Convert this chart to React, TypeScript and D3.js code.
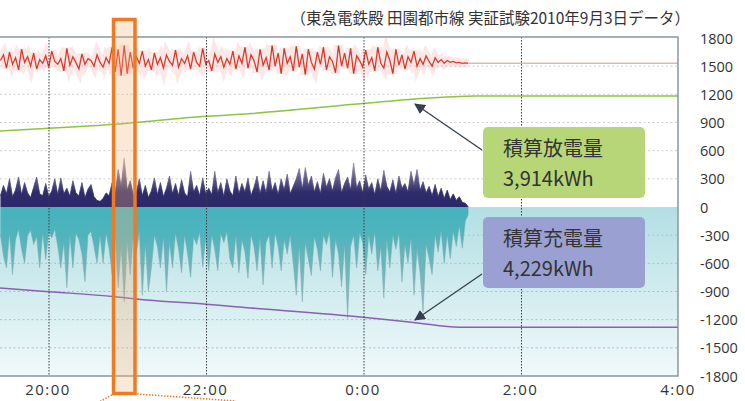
import React from "react";
import * as d3 from "d3";

// ---- data ----
const titleText = "（東急電鉄殿 田園都市線 実証試験2010年9月3日データ）";
const xTickMinutes = [0, 120, 240, 360, 480];
const xTickLabels = ["20:00", "22:00", "0:00", "2:00", "4:00"];
const yTicks = [1800, 1500, 1200, 900, 600, 300, 0, -300, -600, -900, -1200, -1500, -1800];

// samples: minutes from 20:00
const sampleStart = -37;
const sampleStep = 2.3;

const voltage = [
  1560, 1620, 1480, 1650, 1520, 1590, 1460, 1680, 1540, 1600,
  1500, 1640, 1470, 1570, 1530, 1610, 1490, 1660, 1550, 1520,
  1580, 1450, 1690, 1510, 1600, 1540, 1470, 1630, 1520, 1580,
  1560, 1500, 1620, 1540, 1490, 1590, 1530, 1700, 1440, 1680,
  1400, 1720, 1420, 1650, 1480, 1600, 1530, 1660, 1500, 1570,
  1460, 1640, 1520, 1590, 1480, 1620, 1550, 1510, 1670, 1490,
  1580, 1530, 1610, 1470, 1650, 1540, 1500, 1690, 1520, 1560,
  1450, 1630, 1540, 1600, 1490, 1580, 1520, 1660, 1470, 1610,
  1530, 1700, 1480, 1620, 1560, 1440, 1680, 1510, 1590, 1460,
  1720, 1500, 1640, 1420, 1690, 1530, 1600, 1450, 1710, 1490,
  1630, 1410, 1680, 1540, 1470, 1650, 1520, 1700, 1460, 1600,
  1550, 1430, 1720, 1500, 1640, 1480, 1690, 1420, 1610, 1560,
  1490, 1670, 1520, 1590, 1450, 1700, 1530, 1480, 1650, 1560,
  1420, 1680, 1510, 1620, 1470, 1600, 1540, 1660, 1500, 1580,
  1520, 1610, 1550, 1500, 1590, 1540, 1570, 1530, 1560, 1540,
  1550, 1535, 1540, 1530, 1535, 1530,
];
const idleVoltageTimes = [319.5, 480];
const idleVoltage = [1530, 1530];

const discharge = [
  120, 230, 140, 300, 110, 180, 320, 130, 260, 150,
  100, 210, 320, 140, 120, 250, 110, 170, 300, 130,
  310, 140, 200, 115, 280, 150, 120, 260, 100, 190,
  240, 110, 70, 60, 90, 150, 120, 260, 140, 400,
  220, 520, 180, 280, 130, 150, 300, 120, 230, 100,
  170, 310, 130, 260, 110, 200, 330, 140, 250, 120,
  290, 150, 110, 380, 160, 230, 120, 310, 140, 200,
  130, 380, 150, 260, 110, 300, 170, 120, 330, 140,
  250, 160, 310, 120, 210, 330, 140, 280, 150, 380,
  170, 260, 130, 300, 180, 350, 140, 220, 300, 410,
  190, 420, 230, 330, 160, 270, 140, 360, 210, 300,
  170, 310, 400, 150, 250, 320, 180, 470, 200, 280,
  150, 340, 190, 260, 130, 300, 170, 390, 220, 160,
  290, 140, 330, 200, 250, 160, 380, 230, 400, 180,
  270, 150, 220, 120, 240, 110, 200, 90, 180, 80,
  140, 70, 110, 50, 40, 0,
];

const charge = [
  -300, -520, -650, -280, -720, -350, -240, -450, -600, -300,
  -250, -400, -320, -650, -280, -560, -260, -330, -240, -420,
  -650, -380, -860, -300, -650, -280, -350, -500, -795, -300,
  -260, -420, -600, -300, -600, -280, -450, -720, -350, -860,
  -420, -1010, -380, -720, -300, -500, -260, -940, -400, -900,
  -650, -300, -420, -650, -320, -900, -380, -650, -280, -450,
  -700, -300, -500, -750, -320, -400, -270, -640, -330, -680,
  -300, -450, -680, -280, -380, -260, -550, -650, -300, -700,
  -350, -480, -760, -300, -420, -680, -330, -830, -380, -300,
  -650, -280, -420, -680, -350, -500, -300, -600, -940, -420,
  -1010, -380, -560, -730, -320, -450, -680, -300, -400, -260,
  -750, -350, -500, -850, -400, -1185, -420, -300, -650, -280,
  -380, -720, -300, -500, -260, -680, -420, -970, -350, -650,
  -300, -450, -280, -800, -400, -600, -330, -940, -450, -700,
  -1115, -400, -550, -720, -300, -480, -250, -600, -300, -550,
  -260, -420, -200, -440, -150, -80,
];

const dischargeSumTimes = [-38, 0, 50, 120, 142, 241, 279, 325, 480];
const dischargeSum = [809, 838, 881, 966, 984, 1104, 1150, 1182, 1182];
const chargeSumTimes = [-38, 0, 50, 66, 120, 142, 241, 267, 279, 313, 480];
const chargeSum = [-863, -902, -955, -980, -1036, -1062, -1176, -1215, -1232, -1281, -1281];

const dischargeLabel = ["積算放電量", "3,914kWh"];
const chargeLabel = ["積算充電量", "4,229kWh"];

// ---- layout ----
const W = 745;
const H = 401;
const plotLeft = 0;
const plotRight = 678;
const plotTop = 37;
const plotBottom = 376;

export default function App() {
  const x = d3.scaleLinear().domain([0, 480]).range([49, 679]);
  const y = d3.scaleLinear().domain([-1800, 1800]).range([376, 38]);
  const tOf = (i: number) => sampleStart + sampleStep * i;

  const lineIdx = d3
    .line<number>()
    .x((_, i) => x(tOf(i)))
    .y((v) => y(v));
  const areaIdx = d3
    .area<number>()
    .x((_, i) => x(tOf(i)))
    .y0(y(0))
    .y1((v) => y(v));
  const lineT = (ts: number[]) =>
    d3
      .line<number>()
      .x((_, i) => x(ts[i]))
      .y((v) => y(v))
      .curve(d3.curveMonotoneX);

  const font = "'Noto Sans CJK JP', 'Noto Sans', sans-serif";
  const numFont = "'Open Sans', 'Noto Sans', sans-serif";

  const box1 = { x: 483, y: 127, w: 162, h: 71 };
  const box2 = { x: 483, y: 217, w: 162, h: 71 };

  return (
    <div style={{ position: "absolute", left: 0, top: 0 }}>
      <svg width={W} height={H} style={{ display: "block", background: "#fff" }}>
        <defs>
          <linearGradient id="cyanBg" x1="0" y1="0" x2="0" y2="1">
            <stop offset="0%" stopColor="#b2dfe4" />
            <stop offset="100%" stopColor="#f1f9fa" />
          </linearGradient>
          <linearGradient id="navyGrad" gradientUnits="userSpaceOnUse" x1="0" y1={y(520)} x2="0" y2={y(0)}>
            <stop offset="0" stopColor="#a9a5bd" />
            <stop offset="0.45" stopColor="#5a5786" />
            <stop offset="0.7" stopColor="#2f2c6c" />
            <stop offset="1" stopColor="#2b286a" />
          </linearGradient>
          <linearGradient id="cyanGrad" gradientUnits="userSpaceOnUse" x1="0" y1={y(0)} x2="0" y2={y(-1200)}>
            <stop offset="0" stopColor="#3caeb9" />
            <stop offset="0.25" stopColor="#46b0ba" />
            <stop offset="0.6" stopColor="#6cb2b8" />
            <stop offset="1" stopColor="#93b5b8" />
          </linearGradient>
          <linearGradient id="redGrad" gradientUnits="userSpaceOnUse" x1="0" y1={y(1760)} x2="0" y2={y(1360)}>
            <stop offset="0" stopColor="#8e3a3a" />
            <stop offset="0.3" stopColor="#dc3a2c" />
            <stop offset="0.7" stopColor="#dc3a2c" />
            <stop offset="1" stopColor="#8e3a3a" />
          </linearGradient>
          <marker id="arrow" viewBox="0 0 10 10" refX="9" refY="5" markerWidth="11" markerHeight="11" markerUnits="userSpaceOnUse" orient="auto">
            <path d="M0,0 L10,5 L0,10 z" fill="#34404e" />
          </marker>
          <clipPath id="plotClip">
            <rect x={plotLeft} y={plotTop} width={plotRight - plotLeft} height={plotBottom - plotTop} />
          </clipPath>
        </defs>

        {/* title */}
        <text x={690} y={24} textAnchor="end" fontFamily={font} fontSize={15.5} fill="#333">
          {titleText}
        </text>

        {/* backgrounds */}
        <rect x={plotLeft} y={y(0)} width={plotRight - plotLeft} height={plotBottom - y(0)} fill="url(#cyanBg)" />

        {/* horizontal grid */}
        {yTicks
          .filter((v) => v !== 0 && Math.abs(v) !== 1800)
          .map((v) => (
            <line key={v} x1={plotLeft} x2={plotRight} y1={y(v)} y2={y(v)} stroke={v > 0 ? "#cfcfcf" : "#a9c4c8"} strokeWidth={1} strokeDasharray="2 2.5" />
          ))}

        <g clipPath="url(#plotClip)">
          {/* voltage */}
          <path d={lineIdx(voltage) || ""} fill="none" stroke="#f2b0a8" strokeWidth={9} opacity={0.3} />
          <path d={lineIdx(voltage) || ""} fill="none" stroke="url(#redGrad)" strokeWidth={1.3} />
          <path d={lineT(idleVoltageTimes)(idleVoltage) || ""} fill="none" stroke="#d9b9b6" strokeWidth={1.5} />

          {/* discharge */}
          <path d={areaIdx(discharge) || ""} fill="url(#navyGrad)" />
          <path d={lineIdx(discharge) || ""} fill="none" stroke="url(#navyGrad)" strokeWidth={0.8} />

          {/* charge */}
          <path d={areaIdx(charge) || ""} fill="url(#cyanGrad)" opacity={0.92} />
          <path d={lineIdx(charge) || ""} fill="none" stroke="#7aa9ae" strokeWidth={0.7} opacity={0.7} />

          {/* cumulative lines */}
          <path d={lineT(dischargeSumTimes)(dischargeSum) || ""} fill="none" stroke="#8cc63f" strokeWidth={1.5} />
          <path d={lineT(chargeSumTimes)(chargeSum) || ""} fill="none" stroke="#8a5fb0" strokeWidth={1.5} />
        </g>

        {/* vertical grid */}
        {xTickMinutes.slice(0, 4).map((m) => (
          <line key={m} x1={x(m)} x2={x(m)} y1={plotTop} y2={plotBottom} stroke="#3a3a3a" strokeWidth={1} strokeDasharray="1.5 1.5" />
        ))}

        {/* border */}
        <path d={`M${plotLeft},${plotTop}H${plotRight}V${plotBottom}H${plotLeft}`} fill="none" stroke="#8896a3" strokeWidth={1.5} />

        {/* y labels */}
        {yTicks.map((v) => (
          <text key={v} x={700} y={y(v) + 5.5} fontFamily={numFont} fontSize={14.5} fill="#333">
            {v}
          </text>
        ))}

        {/* x labels */}
        {xTickMinutes.map((m, i) => (
          <text key={m} x={x(m) - 1} y={395} textAnchor="middle" fontFamily={numFont} fontSize={15} letterSpacing={1.5} fill="#333">
            {xTickLabels[i]}
          </text>
        ))}

        {/* highlight box */}
        <rect x={113.5} y={19.5} width={21.5} height={374} fill="#f5b27a" opacity={0.3} />
        <rect x={113.5} y={19.5} width={21.5} height={374} fill="none" stroke="#ef7a22" strokeWidth={3.5} />
        <line x1={112} y1={395} x2={99} y2={402} stroke="#ef7a22" strokeWidth={1.5} strokeDasharray="1.5 1.5" />
        <line x1={137} y1={394} x2={236} y2={401} stroke="#ef7a22" strokeWidth={1.5} strokeDasharray="1.5 1.5" />

        {/* annotation boxes */}
        <line x1={482} y1={150} x2={415} y2={104} stroke="#34404e" strokeWidth={1.3} markerEnd="url(#arrow)" />
        <line x1={482} y1={274} x2={415} y2={320} stroke="#34404e" strokeWidth={1.3} markerEnd="url(#arrow)" />
        <rect x={box1.x} y={box1.y} width={box1.w} height={box1.h} rx={5} fill="#b7d677" />
        <text x={503} y={156} fontFamily={font} fontSize={20} fill="#333">{dischargeLabel[0]}</text>
        <text x={503} y={186} fontFamily={font} fontSize={20} fill="#333">{dischargeLabel[1]}</text>
        <rect x={box2.x} y={box2.y} width={box2.w} height={box2.h} rx={5} fill="#9aa0d1" />
        <text x={503} y={246} fontFamily={font} fontSize={20} fill="#333">{chargeLabel[0]}</text>
        <text x={503} y={276} fontFamily={font} fontSize={20} fill="#333">{chargeLabel[1]}</text>
      </svg>
    </div>
  );
}
